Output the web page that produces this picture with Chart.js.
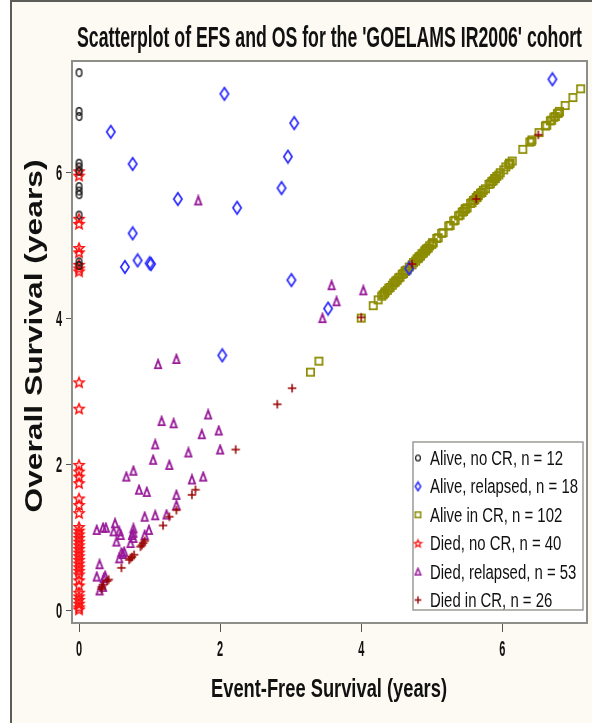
<!DOCTYPE html>
<html>
<head>
<meta charset="utf-8">
<script src="https://cdn.jsdelivr.net/npm/chart.js@4/dist/chart.umd.min.js"></script>
<style>
  html, body { margin: 0; padding: 0; background: #fff; }
  canvas { display: block; }
</style>
</head>
<body>
<canvas id="myChart" width="592" height="723"></canvas>
<script>
// tick labels
var xTicks = [0, 2, 4, 6];
var yTicks = [0, 2, 4, 6];

var legendLabels = ['Alive, no CR, n = 12', 'Alive, relapsed, n = 18', 'Alive in CR, n = 102',
                    'Died, no CR, n = 40', 'Died, relapsed, n = 53', 'Died in CR, n = 26'];

// Alive, no CR
var aliveNoCrEfs = [0, 0, 0, 0, 0, 0, 0, 0, 0, 0, 0, 0];
var aliveNoCrOs  = [7.37, 6.84, 6.77, 6.13, 6.08, 6.02, 5.81, 5.75, 5.70, 5.42, 4.78, 4.73];

// Alive, relapsed
var aliveRelEfs = [0.45, 0.76, 1.40, 0.76, 0.83, 0.65, 1.00, 1.02, 2.06, 3.05, 2.96, 2.87, 2.24, 3.01, 3.53, 2.03, 6.71, 4.68];
var aliveRelOs  = [6.56, 6.12, 5.64, 5.17, 4.80, 4.71, 4.76, 4.75, 7.08, 6.68, 6.22, 5.79, 5.52, 4.53, 4.14, 3.50, 7.28, 4.69];

// Alive in CR
var aliveCrEfs = [3.28, 3.40, 4.00, 4.17, 4.24, 4.29, 4.31, 4.33, 4.34, 4.37, 4.39, 4.41, 4.44, 4.46, 4.48, 4.49, 4.51, 4.53,
  4.55, 4.58, 4.60, 4.62, 4.63, 4.65, 4.68, 4.72, 4.74, 4.77, 4.79, 4.81, 4.82, 4.84, 4.86, 4.88, 4.90, 4.91, 4.92, 4.93,
  4.95, 4.97, 5.00, 5.01, 5.02, 5.07, 5.09, 5.14, 5.16, 5.24, 5.26, 5.31, 5.33, 5.38, 5.40, 5.43, 5.45, 5.47, 5.48, 5.50,
  5.55, 5.57, 5.59, 5.61, 5.63, 5.64, 5.65, 5.66, 5.69, 5.71, 5.73, 5.76, 5.81, 5.83, 5.85, 5.87, 5.89, 5.90, 5.92, 5.95,
  5.97, 6.02, 6.05, 6.09, 6.10, 6.11, 6.14, 6.29, 6.39, 6.41, 6.42, 6.52, 6.61, 6.63, 6.68, 6.70, 6.73, 6.75, 6.78, 6.80,
  6.81, 6.89, 7.00, 7.11];
var aliveCrOs = [3.27, 3.42, 4.01, 4.18, 4.26, 4.31, 4.33, 4.35, 4.37, 4.39, 4.42, 4.43, 4.46, 4.49, 4.50, 4.52, 4.53, 4.56,
  4.57, 4.61, 4.62, 4.65, 4.66, 4.67, 4.71, 4.74, 4.77, 4.79, 4.82, 4.83, 4.85, 4.86, 4.89, 4.90, 4.93, 4.93, 4.95, 4.96,
  4.97, 5.00, 5.02, 5.04, 5.04, 5.10, 5.11, 5.17, 5.18, 5.27, 5.28, 5.34, 5.35, 5.41, 5.42, 5.46, 5.47, 5.50, 5.51, 5.52,
  5.58, 5.59, 5.62, 5.63, 5.66, 5.66, 5.68, 5.69, 5.72, 5.73, 5.76, 5.78, 5.84, 5.85, 5.88, 5.89, 5.92, 5.92, 5.95, 5.97,
  6.00, 6.04, 6.08, 6.11, 6.13, 6.13, 6.16, 6.32, 6.42, 6.43, 6.45, 6.55, 6.64, 6.65, 6.71, 6.72, 6.76, 6.77, 6.81, 6.82,
  6.84, 6.92, 7.03, 7.15];

// Died, no CR
var diedNoCrEfs = [0, 0, 0, 0, 0, 0, 0, 0, 0, 0, 0, 0, 0, 0, 0, 0, 0, 0, 0, 0,
                   0, 0, 0, 0, 0, 0, 0, 0, 0, 0, 0, 0, 0, 0, 0, 0, 0, 0, 0, 0];
var diedNoCrOs = [6.02, 5.96, 5.37, 5.30, 4.97, 4.91, 4.74, 4.69, 4.65, 3.13, 2.77, 2.00, 1.91, 1.84, 1.75, 1.54, 1.45, 1.34,
  1.15, 1.10, 1.05, 1.00, 0.95, 0.90, 0.85, 0.80, 0.75, 0.70, 0.65, 0.60, 0.55, 0.50, 0.42, 0.35, 0.25, 0.20, 0.15, 0.10,
  0.05, 0.02];

// Died, relapsed
var diedRelEfs = [1.17, 1.34, 1.83, 1.74, 1.98, 2.00, 1.08, 1.05, 1.28, 1.55, 0.67, 0.77, 0.85, 0.96, 1.60, 1.76, 1.38, 1.38,
  1.24, 1.08, 0.93, 0.99, 0.93, 0.25, 0.34, 0.38, 0.51, 0.49, 0.57, 0.59, 0.77, 0.75, 0.77, 0.73, 0.53, 0.64, 0.62, 0.57,
  0.29, 0.25, 0.37, 0.29, 0.34, 1.69, 3.58, 3.65, 3.45, 4.03, 1.12, 1.38, 0.77, 0.60, 0.35];
var diedRelOs = [2.60, 2.57, 2.69, 2.42, 2.47, 2.21, 2.28, 2.07, 2.00, 2.17, 1.84, 1.92, 1.66, 1.63, 1.80, 1.84, 1.59, 1.45,
  1.32, 1.31, 1.29, 1.11, 1.04, 1.11, 1.14, 1.14, 1.20, 1.09, 1.09, 1.04, 1.13, 1.04, 1.00, 0.93, 0.95, 0.81, 0.78, 0.72,
  0.64, 0.47, 0.48, 0.28, 0.33, 5.62, 4.46, 4.24, 4.01, 4.39, 3.38, 3.45, 1.07, 0.80, 0.45];

// Died in CR
var diedCrEfs = [0.32, 0.34, 0.40, 0.60, 0.71, 0.75, 0.78, 0.87, 0.91, 0.93, 1.19, 1.28, 1.38, 1.60, 1.65, 2.22, 2.81, 3.02,
  4.00, 4.72, 5.63, 6.51, 0.32, 0.73, 0.89, 0.42];
var diedCrOs = [0.30, 0.36, 0.41, 0.59, 0.70, 0.74, 0.77, 0.88, 0.93, 0.96, 1.17, 1.29, 1.38, 1.59, 1.66, 2.21, 2.83, 3.05,
  4.02, 4.75, 5.64, 6.52, 0.33, 0.72, 0.90, 0.43];

function pairs(xs, ys) {
    return xs.map(function (x, i) { return { x: x, y: ys[i] }; });
}

// small canvases used as point symbols
function marker(kind, color, w, h, lw) {
    var c = document.createElement('canvas');
    c.width = w + 2; c.height = h + 2;
    var g = c.getContext('2d');
    var cx = c.width / 2, cy = c.height / 2, hw = w / 2 - lw / 2, hh = h / 2 - lw / 2;
    g.strokeStyle = color;
    g.lineWidth = lw;
    g.lineJoin = 'miter';
    g.beginPath();
    if (kind === 'circle') {
        g.ellipse(cx, cy, hw, hh, 0, 0, 2 * Math.PI);
    } else if (kind === 'diamond') {
        g.moveTo(cx, cy - hh); g.lineTo(cx + hw, cy); g.lineTo(cx, cy + hh); g.lineTo(cx - hw, cy); g.closePath();
    } else if (kind === 'square') {
        g.rect(cx - hw, cy - hh, hw * 2, hh * 2);
    } else if (kind === 'star') {
        for (var k = 0; k < 10; k++) {
            var r = k % 2 ? 0.45 : 1;
            var a = -Math.PI / 2 + k * Math.PI / 5;
            var px = cx + Math.cos(a) * hw * r, py = cy + 0.5 + Math.sin(a) * hh * r;
            if (k === 0) g.moveTo(px, py); else g.lineTo(px, py);
        }
        g.closePath();
    } else if (kind === 'triangle') {
        g.moveTo(cx, cy - hh); g.lineTo(cx + hw, cy + hh); g.lineTo(cx - hw, cy + hh); g.closePath();
    } else {
        g.moveTo(cx, cy - hh); g.lineTo(cx, cy + hh); g.moveTo(cx - hw, cy); g.lineTo(cx + hw, cy);
    }
    g.stroke();
    return c;
}

var colors = ['#1a1a1a', '#2a2aff', '#8c8c00', '#ff1010', '#981a98', '#990000'];
var bigSymbols = [
    marker('circle', colors[0], 7, 9, 1.4),
    marker('diamond', colors[1], 10, 14, 1.7),
    marker('square', colors[2], 9, 9, 1.7),
    marker('star', colors[3], 12, 12, 1.5),
    marker('triangle', colors[4], 8, 10, 1.8),
    marker('plus', colors[5], 10, 10, 1.5)
];
var smallSymbols = [
    marker('circle', colors[0], 6, 7, 1.2),
    marker('diamond', colors[1], 7, 10, 1.5),
    marker('square', colors[2], 7, 7, 1.5),
    marker('star', colors[3], 9, 9, 1.3),
    marker('triangle', colors[4], 7, 8, 1.5),
    marker('plus', colors[5], 8, 9, 1.3)
];

function drawText(ctx, str, x, y, font, width, align) {
    ctx.save();
    ctx.font = font;
    var sx = width / ctx.measureText(str).width;
    ctx.translate(x, y);
    ctx.scale(sx, 1);
    ctx.textAlign = align || 'center';
    ctx.textBaseline = 'alphabetic';
    ctx.fillText(str, 0, 0);
    ctx.restore();
}

function drawScaled(ctx, str, x, y, font, sx, align) {
    ctx.save();
    ctx.font = font;
    ctx.translate(x, y);
    ctx.scale(sx, 1);
    ctx.textAlign = align;
    ctx.textBaseline = 'alphabetic';
    ctx.fillText(str, 0, 0);
    ctx.restore();
}

var decor = {
    id: 'decor',
    beforeDraw: function (chart) {
        var ctx = chart.ctx, a = chart.chartArea;
        ctx.save();
        ctx.fillStyle = '#ffffff';
        ctx.fillRect(0, 0, chart.width, chart.height);
        ctx.fillStyle = '#fcfaf2';
        ctx.fillRect(12, 2, chart.width - 12, chart.height - 2);
        ctx.fillStyle = '#ffffff';
        ctx.fillRect(a.left, a.top, a.right - a.left, a.bottom - a.top);
        ctx.strokeStyle = '#5c5c58';
        ctx.lineWidth = 2;
        ctx.beginPath();
        ctx.moveTo(11, chart.height); ctx.lineTo(11, 1); ctx.lineTo(chart.width, 1);
        ctx.stroke();
        ctx.restore();
    },
    afterDraw: function (chart) {
        var ctx = chart.ctx, a = chart.chartArea;
        var xs = chart.scales.x, ys = chart.scales.y;
        ctx.save();
        // plot frame
        ctx.strokeStyle = '#8e8e88';
        ctx.lineWidth = 2;
        ctx.strokeRect(a.left, a.top, a.right - a.left, a.bottom - a.top);

        // tick labels
        ctx.fillStyle = '#111';
        xTicks.forEach(function (v) {
            drawScaled(ctx, String(v), xs.getPixelForValue(v), 656, 'bold 22px "Liberation Sans"', 0.5, 'center');
        });
        yTicks.forEach(function (v) {
            drawScaled(ctx, String(v), 62, ys.getPixelForValue(v) + 7.5, 'bold 22px "Liberation Sans"', 0.5, 'right');
        });

        // titles
        drawText(ctx, "Scatterplot of EFS and OS for the 'GOELAMS IR2006' cohort", 329.5, 47, 'bold 29px "Liberation Sans"', 505);
        drawText(ctx, 'Event-Free Survival (years)', 329, 697, 'bold 25px "Liberation Sans"', 236);
        ctx.save();
        ctx.translate(42, 336);
        ctx.rotate(-Math.PI / 2);
        drawText(ctx, 'Overall Survival (years)', 0, 0, 'bold 23px "Liberation Sans"', 353);
        ctx.restore();

        // legend
        var lx = 413, ly = 442, lw = 170, lh = 168;
        ctx.fillStyle = '#ffffff';
        ctx.fillRect(lx, ly, lw, lh);
        ctx.strokeStyle = '#9a9a96';
        ctx.lineWidth = 1.5;
        ctx.strokeRect(lx, ly, lw, lh);
        ctx.font = '20px "Liberation Sans"';
        var sx = 148 / ctx.measureText(legendLabels[1]).width;
        ctx.fillStyle = '#111';
        legendLabels.forEach(function (lab, i) {
            var cy = 458 + i * 28.4;
            var s = smallSymbols[i];
            ctx.drawImage(s, 418 - s.width / 2, cy - s.height / 2);
            drawScaled(ctx, lab, 430, cy + 7, '20px "Liberation Sans"', sx, 'left');
        });
        ctx.restore();
    }
};

var groups = [
    pairs(aliveNoCrEfs, aliveNoCrOs),
    pairs(aliveRelEfs, aliveRelOs),
    pairs(aliveCrEfs, aliveCrOs),
    pairs(diedNoCrEfs, diedNoCrOs),
    pairs(diedRelEfs, diedRelOs),
    pairs(diedCrEfs, diedCrOs)
];

var ctx = document.getElementById('myChart').getContext('2d');
var chart = new Chart(ctx, {
    type: 'scatter',
    data: {
        datasets: groups.map(function (d, i) {
            return {
                label: legendLabels[i],
                data: d,
                pointStyle: bigSymbols[i],
                pointRadius: 4,
                borderColor: colors[i],
                backgroundColor: colors[i],
                order: i === 5 ? 0 : i + 1
            };
        })
    },
    options: {
        responsive: false,
        animation: false,
        events: [],
        devicePixelRatio: 1,
        layout: { padding: { left: 0, right: 5, top: 61, bottom: 0 } },
        plugins: { legend: { display: false }, tooltip: { enabled: false }, title: { display: false } },
        scales: {
            x: {
                type: 'linear',
                min: -0.1,
                max: 7.2,
                afterBuildTicks: function (s) { s.ticks = xTicks.map(function (v) { return { value: v }; }); },
                afterFit: function (s) { s.height = 100; },
                ticks: { display: false },
                grid: { drawOnChartArea: false, drawTicks: true, tickLength: 9, color: '#555', lineWidth: 1 },
                border: { display: false }
            },
            y: {
                type: 'linear',
                min: -0.165,
                max: 7.53,
                afterBuildTicks: function (s) { s.ticks = yTicks.map(function (v) { return { value: v }; }); },
                afterFit: function (s) { s.width = 72; },
                ticks: { display: false },
                grid: { drawOnChartArea: false, drawTicks: true, tickLength: 6, color: '#555', lineWidth: 1 },
                border: { display: false }
            }
        }
    },
    plugins: [decor]
});
</script>
</body>
</html>
